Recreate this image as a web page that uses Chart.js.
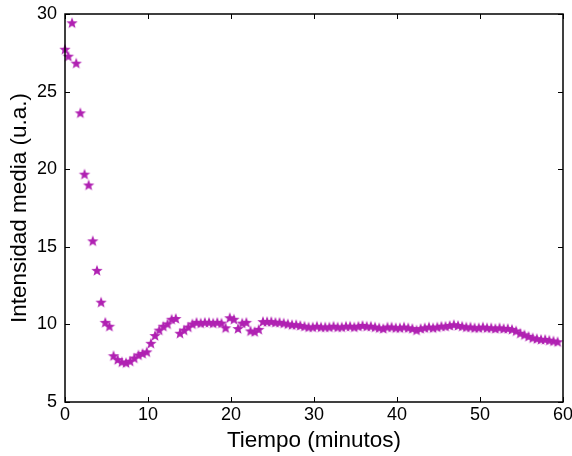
<!DOCTYPE html>
<html>
<head>
<meta charset="utf-8">
<script src="https://cdn.jsdelivr.net/npm/chart.js@4/dist/chart.umd.min.js"></script>
<style>
  html, body { margin: 0; padding: 0; background: #fff; }
  #wrap { width: 572px; height: 456px; }
</style>
</head>
<body>
<div id="wrap"><canvas id="intChart" width="572" height="456"></canvas></div>
<script>
// tiempo (minutos)
var tiempo = [0, 0.4, 0.85, 1.35, 1.85, 2.35, 2.85, 3.35, 3.85, 4.35, 4.85, 5.35, 5.85, 6.35, 6.85, 7.35, 7.85, 8.35, 8.85, 9.35,
  9.85, 10.35, 10.85, 11.35, 11.85, 12.35, 12.85, 13.35, 13.85, 14.35, 14.85, 15.35, 15.85, 16.35, 16.85, 17.35, 17.85, 18.35, 18.85, 19.35,
  19.85, 20.35, 20.85, 21.35, 21.85, 22.35, 22.85, 23.35, 23.85, 24.35, 24.85, 25.35, 25.85, 26.35, 26.85, 27.35, 27.85, 28.35, 28.85, 29.35,
  29.85, 30.35, 30.85, 31.35, 31.85, 32.35, 32.85, 33.35, 33.85, 34.35, 34.85, 35.35, 35.85, 36.35, 36.85, 37.35, 37.85, 38.35, 38.85, 39.35,
  39.85, 40.35, 40.85, 41.35, 41.85, 42.35, 42.85, 43.35, 43.85, 44.35, 44.85, 45.35, 45.85, 46.35, 46.85, 47.35, 47.85, 48.35, 48.85, 49.35,
  49.85, 50.35, 50.85, 51.35, 51.85, 52.35, 52.85, 53.35, 53.85, 54.35, 54.85, 55.35, 55.85, 56.35, 56.85, 57.35, 57.85, 58.35, 58.85, 59.35];

// intensidad media (u.a.)
var intensidad = [27.7, 27.25, 29.4, 26.8, 23.6, 19.65, 18.95, 15.35, 13.45, 11.4, 10.1, 9.85, 7.95, 7.7, 7.55, 7.5, 7.6, 7.8, 8.0, 8.1,
  8.2, 8.75, 9.25, 9.6, 9.85, 10.0, 10.3, 10.35, 9.4, 9.6, 9.8, 10.0, 10.1, 10.05, 10.1, 10.1, 10.05, 10.1, 10.05, 9.75,
  10.4, 10.3, 9.7, 10.05, 10.1, 9.55, 9.5, 9.65, 10.15, 10.15, 10.15, 10.1, 10.1, 10.05, 10.0, 9.95, 9.95, 9.9, 9.85, 9.8,
  9.8, 9.85, 9.8, 9.8, 9.8, 9.85, 9.8, 9.8, 9.85, 9.85, 9.8, 9.85, 9.9, 9.85, 9.85, 9.8, 9.75, 9.7, 9.8, 9.8,
  9.75, 9.75, 9.8, 9.75, 9.7, 9.6, 9.7, 9.75, 9.8, 9.75, 9.8, 9.85, 9.85, 9.9, 9.95, 9.9, 9.85, 9.8, 9.8, 9.75,
  9.75, 9.8, 9.75, 9.75, 9.7, 9.75, 9.7, 9.7, 9.65, 9.55, 9.4, 9.3, 9.2, 9.1, 9.05, 9.0, 9.0, 8.95, 8.9, 8.85];

var xTicks = [0, 10, 20, 30, 40, 50, 60];
var yTicks = [5, 10, 15, 20, 25, 30];

var starColor = '#b021b2';

// filled five-point star used as the marker
function makeStar(r) {
  var c = document.createElement('canvas');
  var s = Math.ceil(r * 2 + 2);
  c.width = s; c.height = s;
  var g = c.getContext('2d');
  var cx = s / 2, cy = s / 2, inner = r * 0.42;
  g.beginPath();
  for (var i = 0; i < 10; i++) {
    var rad = (i % 2 === 0) ? r : inner;
    var a = -Math.PI / 2 + i * Math.PI / 5;
    var px = cx + rad * Math.cos(a), py = cy + rad * Math.sin(a);
    if (i === 0) g.moveTo(px, py); else g.lineTo(px, py);
  }
  g.closePath();
  g.fillStyle = starColor;
  g.fill();
  return c;
}

var puntos = tiempo.map(function (t, i) { return { x: t, y: intensidad[i] }; });

// box frame with inward ticks on all four sides
var frame = {
  id: 'frame',
  afterDraw: function (chart) {
    var ctx = chart.ctx, a = chart.chartArea;
    var xs = chart.scales.x, ys = chart.scales.y;
    ctx.save();
    ctx.strokeStyle = '#000';
    ctx.lineWidth = 1;
    ctx.beginPath();
    xTicks.forEach(function (v) {
      var p = Math.round(xs.getPixelForValue(v)) + 0.5;
      ctx.moveTo(p, a.bottom); ctx.lineTo(p, a.bottom - 5);
      ctx.moveTo(p, a.top); ctx.lineTo(p, a.top + 5);
    });
    yTicks.forEach(function (v) {
      var p = Math.round(ys.getPixelForValue(v)) + 0.5;
      ctx.moveTo(a.left, p); ctx.lineTo(a.left + 5, p);
      ctx.moveTo(a.right, p); ctx.lineTo(a.right - 5, p);
    });
    ctx.stroke();
    ctx.lineWidth = 1.5;
    ctx.strokeRect(a.left, a.top, a.right - a.left, a.bottom - a.top);
    ctx.restore();
  }
};

Chart.defaults.font.family = '"Liberation Sans", Arial, sans-serif';
Chart.defaults.color = '#000';

new Chart(document.getElementById('intChart').getContext('2d'), {
  type: 'scatter',
  data: {
    datasets: [{
      data: puntos,
      pointStyle: makeStar(6),
      pointRadius: 6,
      backgroundColor: starColor,
      borderColor: starColor
    }]
  },
  options: {
    responsive: false,
    animation: false,
    clip: false,
    layout: { padding: { top: 14, right: 9, left: 0, bottom: 0 } },
    plugins: { legend: { display: false }, tooltip: { enabled: false } },
    scales: {
      x: {
        type: 'linear', min: 0, max: 60,
        afterBuildTicks: function (s) { s.ticks = xTicks.map(function (v) { return { value: v }; }); },
        afterFit: function (s) { s.height = 54; s.paddingLeft = 0; s.paddingRight = 0; },
        grid: { display: false, drawTicks: false },
        border: { display: false },
        ticks: { font: { size: 18 }, padding: 2, maxRotation: 0 },
        title: { display: true, text: 'Tiempo (minutos)', font: { size: 22.5 }, padding: { top: 0, bottom: 2 } }
      },
      y: {
        type: 'linear', min: 5, max: 30,
        afterBuildTicks: function (s) { s.ticks = yTicks.map(function (v) { return { value: v }; }); },
        afterFit: function (s) { s.width = 65; s.paddingTop = 0; s.paddingBottom = 0; },
        grid: { display: false, drawTicks: false },
        border: { display: false },
        ticks: { font: { size: 18 }, padding: 8 },
        title: { display: true, text: 'Intensidad media (u.a.)', font: { size: 22.5 }, padding: { top: 6, bottom: 0 } }
      }
    }
  },
  plugins: [frame]
});
</script>
</body>
</html>
